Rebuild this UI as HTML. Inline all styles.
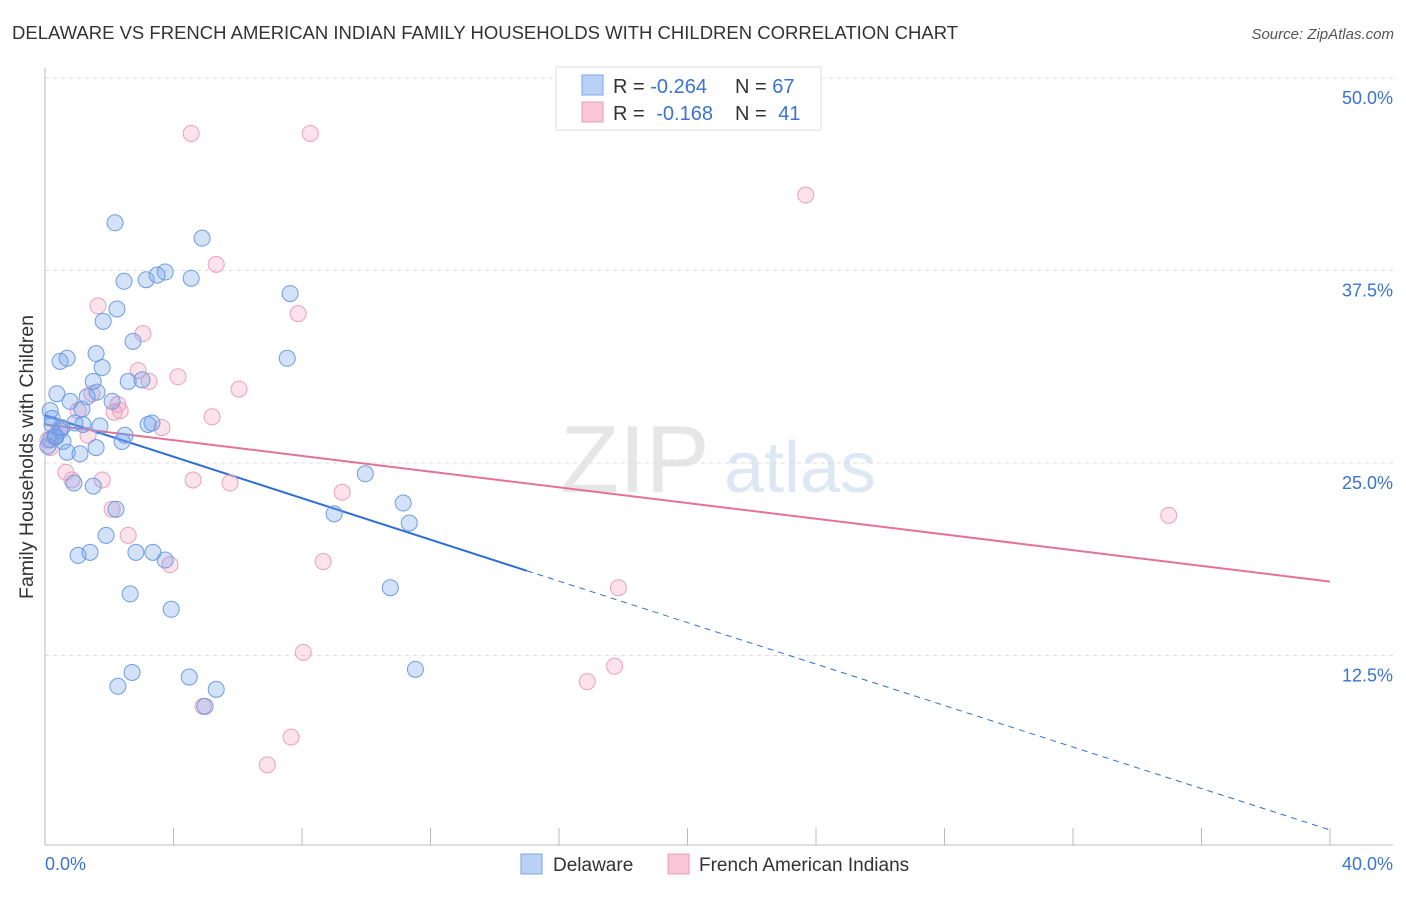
<!DOCTYPE html>
<html><head><meta charset="utf-8"><style>
body{margin:0;background:#fff;font-family:"Liberation Sans",sans-serif;}
svg text{font-family:"Liberation Sans",sans-serif;}
</style></head><body>
<svg id="chart" width="1406" height="892" xmlns="http://www.w3.org/2000/svg">
<text x="12" y="39" font-size="18.5" fill="#333">DELAWARE VS FRENCH AMERICAN INDIAN FAMILY HOUSEHOLDS WITH CHILDREN CORRELATION CHART</text>
<text x="1394" y="39" font-size="15" fill="#555" text-anchor="end" font-style="italic">Source: ZipAtlas.com</text>
<text x="33" y="457" font-size="19.5" fill="#333" text-anchor="middle" transform="rotate(-90 33 457)">Family Households with Children</text>
<g><text x="635" y="492" font-size="96" fill="#e6e6e6" text-anchor="middle" font-family="Liberation Serif">ZIP</text><text x="800" y="492" font-size="72" fill="#dde8f4" text-anchor="middle">atlas</text></g>
<g id="grid"></g><g id="axes"></g><g id="lines"></g><g id="pts"></g>
<g>
<rect x="556" y="67" width="265" height="63" fill="#fff" stroke="#ddd"/>
<rect x="582" y="75" width="21" height="20" fill="#b8d1f5" stroke="#7aa6e6"/>
<rect x="582" y="102" width="21" height="20" fill="#f8c6d6" stroke="#ee9ab7"/>
<text x="613" y="93" font-size="20" fill="#333">R = <tspan fill="#3a73d0">-0.264</tspan><tspan x="735">N = </tspan><tspan fill="#3a73d0">67</tspan></text>
<text x="613" y="120" font-size="20" fill="#333">R = <tspan fill="#3a73d0" dx="6">-0.168</tspan><tspan x="735">N = </tspan><tspan fill="#3a73d0" dx="6">41</tspan></text>
</g>
<g>
<rect x="521" y="854" width="21" height="20" fill="#b8d1f5" stroke="#7aa6e6"/>
<text x="553" y="871" font-size="19" fill="#333">Delaware</text>
<rect x="668" y="854" width="21" height="20" fill="#f8c6d6" stroke="#ee9ab7"/>
<text x="699" y="871" font-size="19" fill="#333">French American Indians</text>
</g>
</svg>
<script>
const yTicks=[12.5,25,37.5,50];
const yTickLabels=["12.5%","25.0%","37.5%","50.0%"];
const xTicks=[0,4,8,12,16,20,24,28,32,36,40];
const blueX=[2.18,4.89,2.46,3.15,3.49,3.74,4.55,2.24,1.81,7.63,2.74,1.59,0.69,0.47,1.78,7.54,2.59,3.02,1.50,1.62,0.37,2.09,0.78,1.15,0.16,0.22,1.31,3.21,3.33,1.71,0.93,1.18,0.47,0.31,0.56,2.49,2.40,1.59,0.69,1.09,9.97,11.15,0.90,1.50,2.21,9.00,11.34,1.90,1.03,1.40,2.83,3.36,3.74,10.75,2.65,3.93,2.71,11.53,4.49,2.27,5.33,4.98,0.09,0.22,0.16,0.34,0.53];
const blueY=[40.6,39.6,36.8,36.9,37.2,37.4,37.0,35.0,34.2,36.0,32.9,32.1,31.8,31.6,31.2,31.8,30.3,30.4,30.3,29.6,29.5,29.0,29.0,28.5,28.4,27.9,29.3,27.5,27.6,27.4,27.6,27.5,27.1,26.7,26.4,26.8,26.4,26.0,25.7,25.6,24.3,22.4,23.7,23.5,22.0,21.7,21.1,20.3,19.0,19.2,19.2,19.2,18.7,16.9,16.5,15.5,11.4,11.6,11.1,10.5,10.3,9.2,26.1,27.5,26.5,26.7,27.3];
const pinkX=[4.55,8.26,23.68,5.33,1.65,7.88,3.05,2.90,4.14,3.24,6.04,1.03,2.34,2.15,5.20,3.64,1.34,0.47,0.16,0.65,0.84,1.78,4.61,5.76,9.25,2.09,2.59,3.89,8.66,17.85,34.98,8.04,17.73,16.88,4.92,7.66,6.92,0.09,0.31,1.46,2.27];
const pinkY=[46.4,46.4,42.4,37.9,35.2,34.7,33.4,31.0,30.6,30.3,29.8,28.4,28.4,28.3,28.0,27.3,26.8,27.3,26.0,24.4,23.9,23.9,23.9,23.7,23.1,22.0,20.3,18.4,18.6,16.9,21.6,12.7,11.8,10.8,9.2,7.2,5.4,26.5,26.8,29.5,28.8];
const blueTrend=[28.1,1.17]; const blueSolidEnd=15.0;
const pinkTrend=[27.5,17.3];
const NS="http://www.w3.org/2000/svg";
const X=v=>45+v*32.125, Y=v=>848-v*15.4;
function mk(tag,attrs,parent){const e=document.createElementNS(NS,tag);for(const k in attrs)e.setAttribute(k,attrs[k]);document.getElementById(parent).appendChild(e);return e;}
yTicks.forEach((t,i)=>{
 const g=mk('line',{x1:45,x2:1393,y1:Y(t),y2:Y(t),stroke:'#ddd','stroke-dasharray':'4,4'},'grid');
 
 
 const l=mk('text',{x:1393,y:Y(t)+26,'font-size':18,fill:'#3a73d0','text-anchor':'end'},'grid');
 l.textContent=yTickLabels[i];
 
 
});
const ax=mk('line',{x1:45,x2:45,y1:68,y2:845,stroke:'#bbb'},'axes');


const bx=mk('line',{x1:45,x2:1393,y1:845,y2:845,stroke:'#bbb'},'axes');


xTicks.forEach(t=>{const e=mk('line',{x1:X(t),x2:X(t),y1:828,y2:845,stroke:'#bbb'},'axes');
 
 });
const x0=mk('text',{x:45,y:870,'font-size':18,fill:'#3a73d0'},'axes');x0.textContent='0.0%';


const x1=mk('text',{x:1393,y:870,'font-size':18,fill:'#3a73d0','text-anchor':'end'},'axes');x1.textContent='40.0%';


function pts(xs,ys,fill,stroke,name){xs.forEach((x,i)=>{const c=mk('circle',{cx:X(x),cy:Y(ys[i]),r:8,fill:fill,stroke:stroke,'stroke-width':1},'pts');
 
 });}
pts(pinkX,pinkY,'rgba(244,160,190,0.3)','#eba0bb','french-point');
pts(blueX,blueY,'rgba(110,160,235,0.3)','#6c9de3','delaware-point');
const bAt=x=>blueTrend[0]+(blueTrend[1]-blueTrend[0])*x/40;
const b1=mk('line',{x1:X(0),y1:Y(bAt(0)),x2:X(blueSolidEnd),y2:Y(bAt(blueSolidEnd)),stroke:'#2e6fd6','stroke-width':2},'lines');


const b2=mk('line',{x1:X(blueSolidEnd),y1:Y(bAt(blueSolidEnd)),x2:X(40),y2:Y(bAt(40)),stroke:'#2e6fd6','stroke-width':1,'stroke-dasharray':'6,5'},'lines');


const p1=mk('line',{x1:X(0),y1:Y(pinkTrend[0]),x2:X(40),y2:Y(pinkTrend[1]),stroke:'#e4719a','stroke-width':2},'lines');


</script>
</body></html>
